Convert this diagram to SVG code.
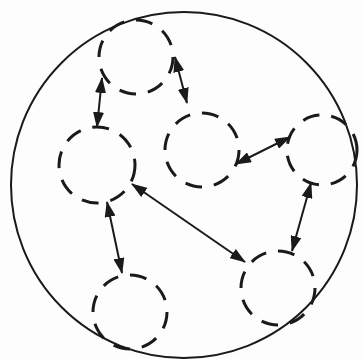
<svg xmlns="http://www.w3.org/2000/svg" width="363" height="359" viewBox="0 0 363 359">
<style>
.outer{fill:none;stroke:#1a1a1a;stroke-width:2}
.node{fill:none;stroke:#1a1a1a;stroke-width:3;stroke-dasharray:17 12}
.link{stroke:#1a1a1a;stroke-width:2;fill:none;marker-start:url(#ah);marker-end:url(#ah)}
</style>
<defs>
<marker id="ah" viewBox="0 0 16 11" refX="15" refY="5.5" markerWidth="16" markerHeight="11" markerUnits="userSpaceOnUse" orient="auto-start-reverse">
<path d="M0,0 L16,5.5 L0,11 Z" fill="#1a1a1a"/>
</marker>
</defs>
<rect width="363" height="359" fill="#fdfdfd"/>
<circle class="outer" cx="184" cy="185" r="173"/>
<g id="n1"><circle class="node" cx="136" cy="57" r="37"/></g>
<g id="n2"><circle class="node" cx="97" cy="165" r="38"/></g>
<g id="n3"><circle class="node" cx="202" cy="150" r="37"/></g>
<g id="n4"><circle class="node" cx="322" cy="150" r="35"/></g>
<g id="n5"><circle class="node" cx="130" cy="312" r="37"/></g>
<g id="n6"><circle class="node" cx="278" cy="288" r="37"/></g>
<g id="connectors">
<line class="link" x1="97" y1="127" x2="102" y2="78"/>
<line class="link" x1="175" y1="57" x2="187" y2="103"/>
<line class="link" x1="236" y1="164" x2="290" y2="137"/>
<line class="link" x1="132" y1="184" x2="245" y2="262"/>
<line class="link" x1="107" y1="202" x2="122" y2="273"/>
<line class="link" x1="311" y1="183" x2="292" y2="251"/>
</g>
</svg>
